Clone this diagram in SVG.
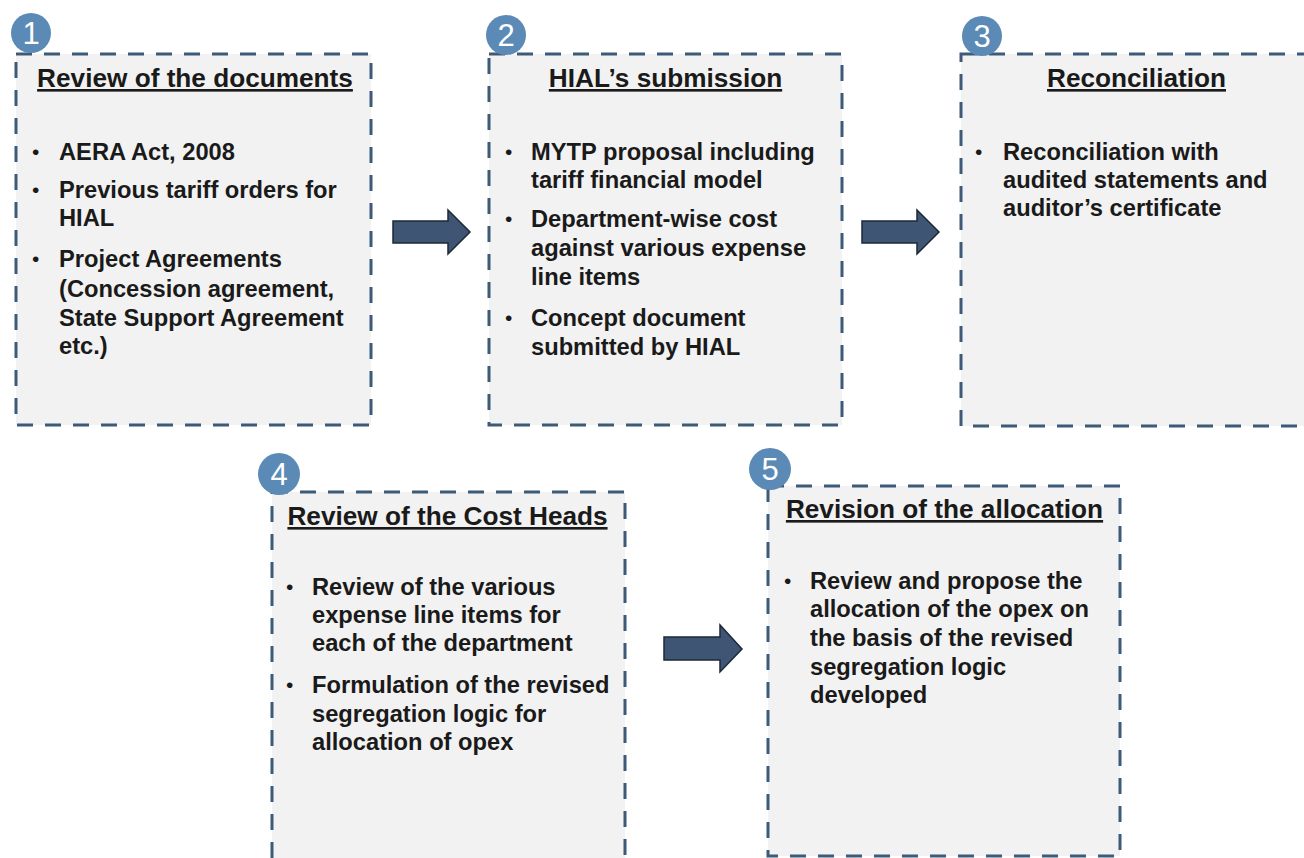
<svg xmlns="http://www.w3.org/2000/svg" width="1304" height="858" viewBox="0 0 1304 858">
  <style>
    .box { fill: #f2f2f2; stroke: #3d5a78; stroke-width: 3; stroke-dasharray: 16 12; }
    .badge { fill: #5a8ab5; }
    .num { font-family: "Liberation Sans", Arial, sans-serif; font-size: 31px; fill: #ffffff; text-anchor: middle; }
    .title { font-family: "Liberation Sans", Arial, sans-serif; font-size: 26.2px; font-weight: bold; fill: #1a1a1a; text-anchor: middle; text-decoration: underline; }
    .item { font-family: "Liberation Sans", Arial, sans-serif; font-size: 23.7px; font-weight: bold; fill: #1a1a1a; }
    .dot { font-family: "Liberation Sans", Arial, sans-serif; font-size: 21px; fill: #1a1a1a; }
    .arrow { fill: #3e5574; stroke: #1d2836; stroke-width: 1.5; stroke-linejoin: miter; }
  </style>

  <!-- Step 1 -->
  <g id="step1">
    <rect class="box" x="16" y="54" width="355" height="371"/>
    <text class="title" x="195" y="87">Review of the documents</text>
    <text class="dot" x="32" y="159">•</text>
    <text class="item" x="59" y="160">AERA Act, 2008</text>
    <text class="dot" x="32" y="197">•</text>
    <text class="item" x="59" y="198">Previous tariff orders for</text>
    <text class="item" x="59" y="226">HIAL</text>
    <text class="dot" x="32" y="266">•</text>
    <text class="item" x="59" y="267">Project Agreements</text>
    <text class="item" x="59" y="297">(Concession agreement,</text>
    <text class="item" x="59" y="326">State Support Agreement</text>
    <text class="item" x="59" y="354">etc.)</text>
    <circle class="badge" cx="31" cy="33" r="20"/>
    <text class="num" x="31" y="44">1</text>
  </g>

  <!-- Step 2 -->
  <g id="step2">
    <rect class="box" x="489" y="54" width="353" height="371"/>
    <text class="title" x="665.5" y="87">HIAL’s submission</text>
    <text class="dot" x="505" y="159">•</text>
    <text class="item" x="531" y="160">MYTP proposal including</text>
    <text class="item" x="531" y="188">tariff financial model</text>
    <text class="dot" x="505" y="226">•</text>
    <text class="item" x="531" y="227">Department-wise cost</text>
    <text class="item" x="531" y="256">against various expense</text>
    <text class="item" x="531" y="285">line items</text>
    <text class="dot" x="505" y="325">•</text>
    <text class="item" x="531" y="326">Concept document</text>
    <text class="item" x="531" y="355">submitted by HIAL</text>
    <circle class="badge" cx="506" cy="35" r="20"/>
    <text class="num" x="506" y="46">2</text>
  </g>

  <!-- Step 3 -->
  <g id="step3">
    <rect class="box" x="961" y="54" width="360" height="372"/>
    <text class="title" x="1136.5" y="87">Reconciliation</text>
    <text class="dot" x="975" y="159">•</text>
    <text class="item" x="1003" y="160">Reconciliation with</text>
    <text class="item" x="1003" y="188">audited statements and</text>
    <text class="item" x="1003" y="216">auditor’s certificate</text>
    <circle class="badge" cx="982" cy="36" r="20"/>
    <text class="num" x="982" y="47">3</text>
  </g>

  <!-- Step 4 -->
  <g id="step4">
    <rect class="box" x="272" y="492" width="353" height="390"/>
    <text class="title" x="447.5" y="525">Review of the Cost Heads</text>
    <text class="dot" x="286" y="594">•</text>
    <text class="item" x="312" y="595">Review of the various</text>
    <text class="item" x="312" y="623">expense line items for</text>
    <text class="item" x="312" y="651">each of the department</text>
    <text class="dot" x="286" y="692">•</text>
    <text class="item" x="312" y="693">Formulation of the revised</text>
    <text class="item" x="312" y="722">segregation logic for</text>
    <text class="item" x="312" y="750">allocation of opex</text>
    <circle class="badge" cx="279" cy="474" r="21"/>
    <text class="num" x="279" y="485">4</text>
  </g>

  <!-- Step 5 -->
  <g id="step5">
    <rect class="box" x="768" y="486" width="352" height="370"/>
    <text class="title" x="944.5" y="518">Revision of the allocation</text>
    <text class="dot" x="784" y="588">•</text>
    <text class="item" x="810" y="589">Review and propose the</text>
    <text class="item" x="810" y="617">allocation of the opex on</text>
    <text class="item" x="810" y="646">the basis of the revised</text>
    <text class="item" x="810" y="675">segregation logic</text>
    <text class="item" x="810" y="703">developed</text>
    <circle class="badge" cx="770" cy="469" r="21"/>
    <text class="num" x="770" y="480">5</text>
  </g>

  <!-- Flow arrows between steps -->
  <g id="connectors">
    <path class="arrow" d="M393,221 H448 V210 L470,232 L448,254 V243 H393 Z"/>
    <path class="arrow" d="M862,221 H917 V210 L939,232 L917,254 V243 H862 Z"/>
    <path class="arrow" d="M664,637 H720 V625 L742,649 L720,672 V660 H664 Z"/>
  </g>
</svg>
